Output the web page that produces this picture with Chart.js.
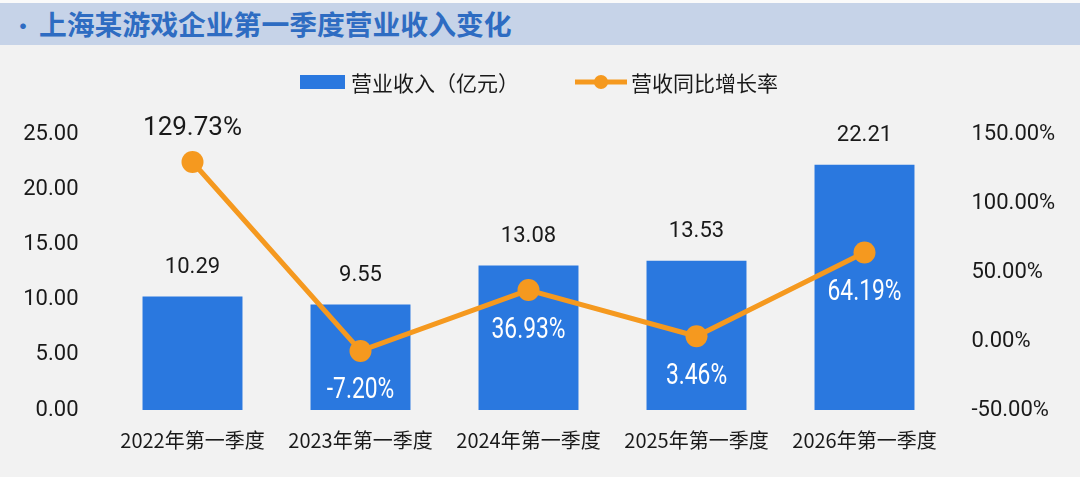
<!DOCTYPE html>
<html>
<head>
<meta charset="utf-8">
<script src="https://cdn.jsdelivr.net/npm/chart.js@4.4.0/dist/chart.umd.min.js"></script>
<style>
html,body{margin:0;padding:0;background:#f2f2f2;}
#wrap{position:relative;width:1080px;height:477px;background:#f2f2f2;overflow:hidden;}
#topline{position:absolute;left:0;top:0;width:1080px;height:3px;background:#fafafa;}
#title{position:absolute;left:0;top:3px;width:1080px;height:42px;background:#c6d3e8;
 font-family:"Noto Sans CJK SC","Noto Sans",sans-serif;font-weight:bold;font-size:27.8px;color:#2e6cc2;
 line-height:42px;white-space:nowrap;}
#title .dot{position:absolute;left:12px;top:0;font-size:22px;}
#title .txt{position:absolute;left:39px;top:-1px;}
canvas{position:absolute;left:0;top:0;}
</style>
</head>
<body>
<div id="wrap">
<canvas id="c" width="1080" height="477"></canvas>
<div id="topline"></div>
<div id="title"><span class="dot">•</span><span class="txt">上海某游戏企业第一季度营业收入变化</span></div>
</div>
<script>
const categories = ["2022年第一季度","2023年第一季度","2024年第一季度","2025年第一季度","2026年第一季度"];
const revenue = [10.29, 9.55, 13.08, 13.53, 22.21];
const growth = [129.73, -7.20, 36.93, 3.46, 64.19];
const revenueLabel = "营业收入（亿元）";
const growthLabel = "营收同比增长率";
const leftTicks = [0, 5, 10, 15, 20, 25];
const rightTicks = [-50, 0, 50, 100, 150];

const BLUE = "#2a78df";
const ORANGE = "#f5991f";
const CJK = '"Noto Sans CJK SC", Roboto, sans-serif';
const NUM = 'Roboto, "Noto Sans CJK SC", sans-serif';

const customLegend = {
  id: 'customLegend',
  afterDraw(chart) {
    const ctx = chart.ctx;
    ctx.save();
    const y = 82;
    ctx.font = '21px ' + CJK;
    ctx.textBaseline = 'middle';
    ctx.fillStyle = BLUE;
    ctx.fillRect(300, y - 7, 45, 14);
    ctx.fillStyle = '#1a1a1a';
    ctx.textAlign = 'left';
    ctx.fillText(chart.data.datasets[0].label, 351, y + 1);
    ctx.strokeStyle = ORANGE;
    ctx.lineWidth = 5;
    ctx.beginPath(); ctx.moveTo(575, y); ctx.lineTo(627, y); ctx.stroke();
    ctx.fillStyle = ORANGE;
    ctx.beginPath(); ctx.arc(601, y, 7, 0, Math.PI * 2); ctx.fill();
    ctx.fillStyle = '#1a1a1a';
    ctx.fillText(chart.data.datasets[1].label, 631, y + 1);
    ctx.restore();
  }
};

const valueLabels = {
  id: 'valueLabels',
  afterDatasetsDraw(chart) {
    const ctx = chart.ctx;
    ctx.save();
    const barMeta = chart.getDatasetMeta(0);
    ctx.font = '22px ' + NUM;
    ctx.fillStyle = '#1a1a1a';
    ctx.textAlign = 'center';
    ctx.textBaseline = 'bottom';
    barMeta.data.forEach((el, i) => {
      ctx.fillText(revenue[i].toFixed(2), el.x, el.y - 18);
    });
    const lineMeta = chart.getDatasetMeta(1);
    lineMeta.data.forEach((el, i) => {
      const txt = growth[i].toFixed(2) + '%';
      if (i === 0) {
        ctx.font = '26px ' + NUM;
        ctx.fillStyle = '#1a1a1a';
        ctx.textAlign = 'center';
        ctx.textBaseline = 'bottom';
        ctx.fillText(txt, el.x, el.y - 20);
      } else {
        ctx.save();
        ctx.translate(el.x, el.y + 40);
        ctx.scale(0.76, 1);
        ctx.font = '30px ' + NUM;
        ctx.fillStyle = '#ffffff';
        ctx.textAlign = 'center';
        ctx.textBaseline = 'middle';
        ctx.fillText(txt, 0, 0);
        ctx.restore();
      }
    });
    ctx.restore();
  }
};

new Chart(document.getElementById('c'), {
  data: {
    labels: categories,
    datasets: [
      {
        type: 'bar', label: revenueLabel, data: revenue, yAxisID: 'y',
        backgroundColor: BLUE, categoryPercentage: 1, barPercentage: 0.595, order: 1
      },
      {
        type: 'line', label: growthLabel, data: growth, yAxisID: 'y1',
        borderColor: ORANGE, backgroundColor: ORANGE, borderWidth: 5,
        pointRadius: 11, pointBackgroundColor: ORANGE, pointBorderWidth: 0,
        tension: 0, order: 0
      }
    ]
  },
  options: {
    responsive: false,
    animation: false,
    layout: { padding: { top: 134, left: 0, right: 0, bottom: 0 } },
    plugins: { legend: { display: false }, tooltip: { enabled: false } },
    scales: {
      x: {
        grid: { display: false, drawTicks: false }, border: { display: false },
        ticks: { color: '#1a1a1a', font: { family: CJK, size: 20 }, padding: 18, maxRotation: 0 },
        afterFit(s) { s.height = 67; }
      },
      y: {
        position: 'left', min: 0, max: 25,
        grid: { display: false, drawTicks: false }, border: { display: false },
        afterBuildTicks(s) { s.ticks = leftTicks.map(v => ({ value: v })); },
        ticks: { color: '#1a1a1a', font: { family: NUM, size: 22 }, padding: 30,
          callback: v => Number(v).toFixed(2) },
        afterFit(s) { s.width = 108.5; }
      },
      y1: {
        position: 'right', min: -50, max: 150,
        grid: { display: false, drawTicks: false }, border: { display: false },
        afterBuildTicks(s) { s.ticks = rightTicks.map(v => ({ value: v })); },
        ticks: { color: '#1a1a1a', font: { family: NUM, size: 22 }, padding: 23,
          callback: v => Number(v).toFixed(2) + '%' },
        afterFit(s) { s.width = 131.5; }
      }
    }
  },
  plugins: [valueLabels, customLegend]
});
</script>
</body>
</html>
